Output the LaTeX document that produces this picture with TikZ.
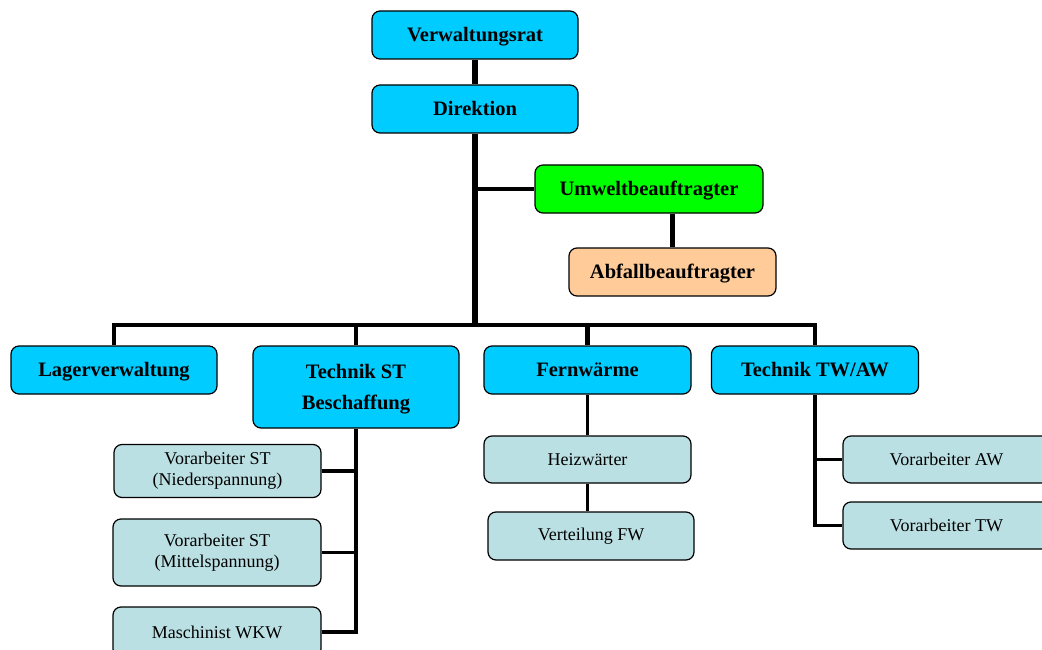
\documentclass[tikz,border=0pt]{standalone}
\usepackage{fontspec}
\setmainfont{Liberation Serif}
\definecolor{cyanbox}{HTML}{00CCFF}
\definecolor{greenbox}{HTML}{00FF00}
\definecolor{peachbox}{HTML}{FFCC99}
\definecolor{tealbox}{HTML}{BBE0E3}
\tikzset{
  box/.style={draw=black, line width=1.2pt, rounded corners=8pt, inner sep=0pt, align=center},
  headbox/.style={box, fill=cyanbox, font=\fontsize{20.5}{31}\selectfont\bfseries, text depth=1pt},
  envbox/.style={box, fill=greenbox, font=\fontsize{20.5}{31}\selectfont\bfseries, text depth=1pt},
  wastebox/.style={box, fill=peachbox, font=\fontsize{20.5}{31}\selectfont\bfseries, text depth=1pt},
  subbox/.style={box, fill=tealbox, font=\fontsize{18}{21}\selectfont},
  trunk/.style={line width=5.5pt},
  busline/.style={line width=4.5pt, line join=miter},
  subline/.style={line width=3.5pt, line join=miter},
  midline/.style={line width=4.5pt, line join=miter},
}
\begin{document}
\begin{tikzpicture}[x=1pt,y=-1pt]
\clip (0,0) rectangle (1042,650);
\fill[white] (0,0) rectangle (1042,650);

% nodes
\node[headbox, minimum width=206pt, minimum height=48pt] (verw) at (475,35) {Verwaltungsrat};
\node[headbox, minimum width=206pt, minimum height=48pt] (dir) at (475,109) {Direktion};
\node[envbox, minimum width=228pt, minimum height=48pt] (umw) at (649,189) {Umweltbeauftragter};
\node[wastebox, minimum width=207pt, minimum height=48pt] (abf) at (672.5,272) {Abfallbeauftragter};

\node[headbox, minimum width=206pt, minimum height=48pt] (lager) at (114,370) {Lagerverwaltung};
\node[headbox, minimum width=206pt, minimum height=82pt] (tst) at (356,387) {Technik ST\\Beschaffung};
\node[headbox, minimum width=207pt, minimum height=48pt] (fw) at (587.5,370) {Fernwärme};
\node[headbox, minimum width=207pt, minimum height=48pt] (tawa) at (815,370) {Technik TW/AW};

\node[subbox, minimum width=207pt, minimum height=53pt] (nied) at (217.5,471) {Vorarbeiter ST\\(Niederspannung)};
\node[subbox, minimum width=208pt, minimum height=67pt] (mitt) at (217,552.5) {Vorarbeiter ST\\(Mittelspannung)};
\node[subbox, minimum width=208pt, minimum height=50pt] (masch) at (217,632) {Maschinist WKW};

\node[subbox, minimum width=207pt, minimum height=47pt] (heiz) at (587.5,459.5) {Heizwärter};
\node[subbox, minimum width=206pt, minimum height=48pt] (vert) at (591,536) {Verteilung FW};

\node[subbox, minimum width=207pt, minimum height=47pt] (vaw) at (946.5,459.5) {Vorarbeiter AW};
\node[subbox, minimum width=207pt, minimum height=47pt] (vtw) at (946.5,525.5) {Vorarbeiter TW};

\coordinate (bus) at (475,325);

% connectors
\draw[trunk] (verw.south) -- (dir.north);
\draw[trunk] (dir.south) -- (dir.south |- bus);
\draw[midline] (dir.south |- umw.west) -- (umw.west);
\draw[midline] (abf.north |- umw.south) -- (abf.north);

\draw[busline] (lager.north) -- (lager.north |- bus) -- (tawa.north |- bus) -- (tawa.north);
\draw[busline] (tst.north |- bus) -- (tst.north);
\draw[busline] (fw.north |- bus) -- (fw.north);

\draw[subline] (tst.south) -- (tst.south |- masch.east) -- (masch.east);
\draw[subline] (tst.south |- nied.east) -- (nied.east);
\draw[subline] (tst.south |- mitt.east) -- (mitt.east);

\draw[subline] (fw.south) -- (heiz.north);
\draw[subline] (heiz.south) -- (heiz.south |- vert.north);

\draw[subline] (tawa.south) -- (tawa.south |- vtw.west) -- (vtw.west);
\draw[subline] (tawa.south |- vaw.west) -- (vaw.west);
\end{tikzpicture}
\end{document}
